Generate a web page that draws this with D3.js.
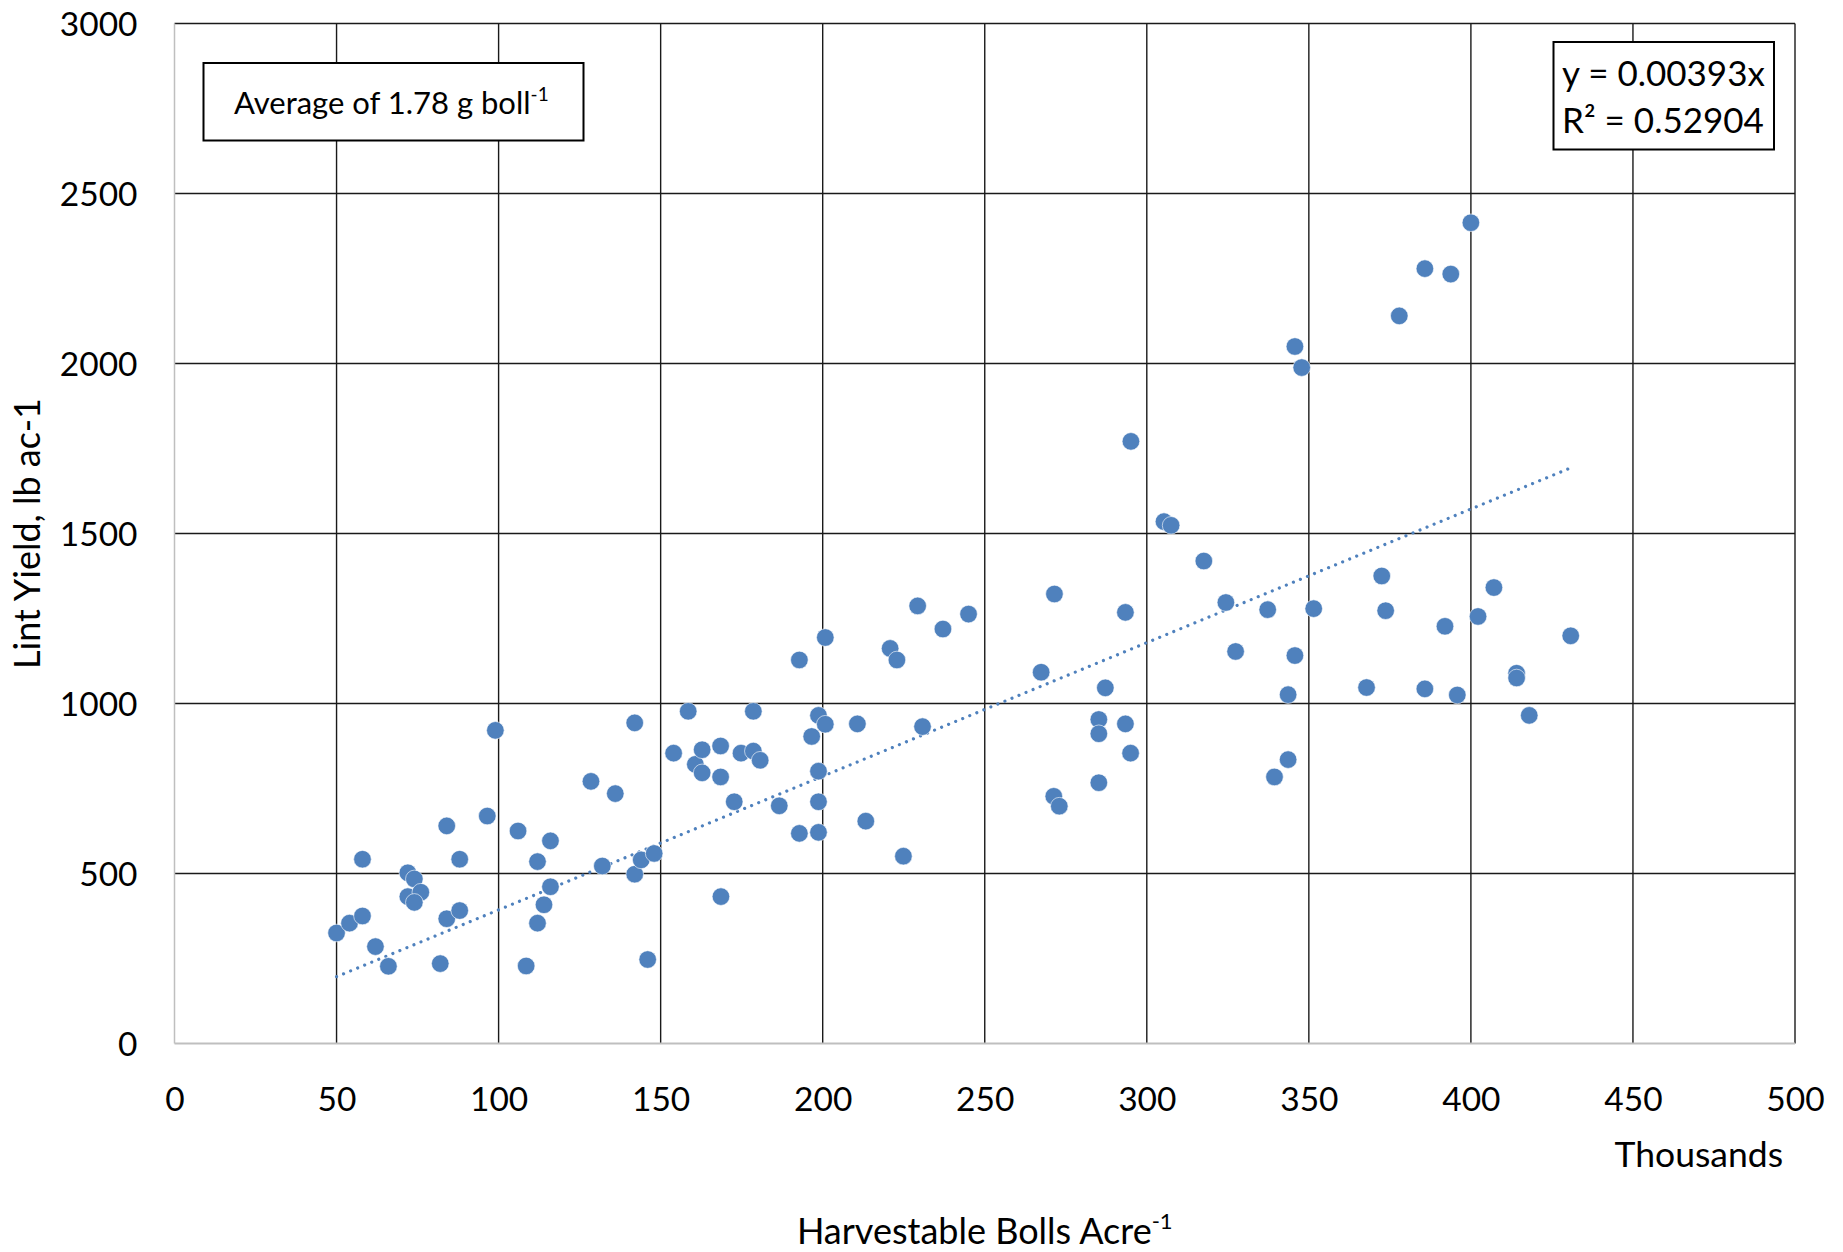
<!DOCTYPE html>
<html>
<head>
<meta charset="utf-8">
<script src="https://cdn.jsdelivr.net/npm/d3@7"></script>
<style>
  html, body { margin: 0; padding: 0; background: #fff; }
  svg { display: block; }
  text { font-family: Lato, 'Open Sans', sans-serif; fill: #000; }
</style>
</head>
<body>
<div id="chart"></div>
<script>
;(function() {
  'use strict';

  // harvestable bolls per acre, thousands
  var bolls = [
    50, 54, 58, 58, 62, 66, 72, 74, 72, 76, 74, 82, 84, 84, 88, 88,
    96.5, 99, 106, 108.5, 112, 112, 114, 116, 116, 128.5, 132, 136,
    142, 142, 144, 146, 148, 154, 158.5, 160.7, 162.8, 162.8, 168.5,
    168.5, 168.6, 172.7, 174.8, 178.6, 178.6, 180.7, 186.6, 192.8,
    192.8, 196.6, 198.7, 198.7, 198.7, 198.7, 200.8, 200.8, 210.7,
    213.3, 220.8, 222.9, 224.9, 229.3, 230.8, 237.1, 245, 267.4,
    271.5, 271.3, 273, 285.2, 285.2, 285.2, 287.2, 293.4, 293.4,
    295.1, 295, 305.3, 307.5, 317.6, 324.4, 327.4, 337.3, 339.4,
    343.6, 343.6, 345.7, 345.7, 347.8, 351.5, 367.8, 372.5, 373.7,
    377.9, 385.8, 385.8, 392, 393.8, 395.8, 400, 402.2, 407.1,
    414.1, 414.1, 418, 430.8
  ];

  // lint yield, lb per acre
  var lintYield = [
    325, 354, 375, 542, 285, 227, 502, 484, 432, 445, 415, 235, 640, 367, 542, 391,
    669, 921, 625, 228, 535, 354, 408, 596, 461, 771, 522, 735,
    498, 943, 540, 247, 559, 854, 977, 821, 864, 796, 875,
    784, 432, 711, 854, 977, 860, 833, 699, 618,
    1128, 903, 965, 801, 711, 621, 939, 1194, 940,
    654, 1162, 1128, 551, 1287, 932, 1219, 1263, 1092,
    1322, 727, 698, 953, 911, 767, 1046, 1268, 940,
    1771, 854, 1535, 1524, 1419, 1297, 1153, 1276, 784,
    1026, 835, 2050, 1141, 1988, 1279, 1047, 1375, 1273,
    2140, 2279, 1043, 1227, 2263, 1025, 2414, 1256, 1341,
    1089, 1075, 965, 1199
  ];

  var xTicks = [0, 50, 100, 150, 200, 250, 300, 350, 400, 450, 500];
  var yTicks = [0, 500, 1000, 1500, 2000, 2500, 3000];

  // trendline y = 0.00393x (x in bolls), i.e. 3.93 per thousand
  var trendSlope = 3.93;
  var rSquared = '0.52904';

  var width = 1843,
      height = 1252,
      left = 174.5,
      right = 1795,
      top = 23.5,
      bottom = 1043.5;

  var blue = '#4f81bd';

  var svg = d3.select('#chart')
    .append('svg')
    .attr('width', width)
    .attr('height', height);

  svg.append('rect')
    .attr('width', width)
    .attr('height', height)
    .attr('fill', '#fff');

  var x = d3.scaleLinear().domain([0, 500]).range([left, right]);
  var y = d3.scaleLinear().domain([0, 3000]).range([bottom, top]);

  /* ------- GRID ------- */
  var grid = svg.append('g').attr('class', 'grid');

  grid.selectAll('line.vgrid')
    .data(xTicks.filter(function(d) { return d > 0; }))
    .enter().append('line')
    .attr('class', 'vgrid')
    .attr('x1', function(d) { return x(d); })
    .attr('x2', function(d) { return x(d); })
    .attr('y1', top)
    .attr('y2', bottom)
    .attr('stroke', '#1a1a1a')
    .attr('stroke-width', 1.4);

  grid.selectAll('line.hgrid')
    .data(yTicks.filter(function(d) { return d > 0; }))
    .enter().append('line')
    .attr('class', 'hgrid')
    .attr('x1', left)
    .attr('x2', right)
    .attr('y1', function(d) { return y(d); })
    .attr('y2', function(d) { return y(d); })
    .attr('stroke', '#1a1a1a')
    .attr('stroke-width', 1.4);

  // axis lines are light grey, as in the excel original
  svg.append('line')
    .attr('x1', left).attr('x2', left)
    .attr('y1', top).attr('y2', bottom)
    .attr('stroke', '#bfbfbf').attr('stroke-width', 1.5);
  svg.append('line')
    .attr('x1', left).attr('x2', right)
    .attr('y1', bottom).attr('y2', bottom)
    .attr('stroke', '#bfbfbf').attr('stroke-width', 2);

  /* ------- AXES ------- */
  var xAxis = d3.axisBottom(x)
    .tickValues(xTicks)
    .tickSize(0)
    .tickPadding(44)
    .tickFormat(d3.format('d'));

  var yAxis = d3.axisLeft(y)
    .tickValues(yTicks)
    .tickSize(0)
    .tickPadding(37)
    .tickFormat(d3.format('d'));

  var gx = svg.append('g')
    .attr('transform', 'translate(0,' + bottom + ')')
    .call(xAxis);
  var gy = svg.append('g')
    .attr('transform', 'translate(' + left + ',0)')
    .call(yAxis);

  [gx, gy].forEach(function(g) {
    g.select('.domain').remove();
    g.selectAll('text')
      .attr('font-family', 'Lato, sans-serif')
      .attr('font-size', 33.5)
      .attr('fill', '#000');
  });
  gy.selectAll('text').attr('dy', '0.36em');

  /* ------- TRENDLINE ------- */
  var xExt = d3.extent(bolls);
  svg.append('line')
    .attr('x1', x(xExt[0]))
    .attr('y1', y(xExt[0] * trendSlope))
    .attr('x2', x(xExt[1]))
    .attr('y2', y(xExt[1] * trendSlope))
    .attr('stroke', blue)
    .attr('stroke-width', 3.2)
    .attr('stroke-linecap', 'round')
    .attr('stroke-dasharray', '0.01,7.6');

  /* ------- POINTS ------- */
  svg.append('g')
    .attr('class', 'points')
    .selectAll('circle')
    .data(d3.range(bolls.length))
    .enter().append('circle')
    .attr('cx', function(i) { return x(bolls[i]); })
    .attr('cy', function(i) { return y(lintYield[i]); })
    .attr('r', 8.8)
    .attr('fill', blue)
    .attr('stroke', '#fff')
    .attr('stroke-width', 0.6);

  /* ------- LABELS ------- */
  svg.append('text')
    .attr('x', 1783)
    .attr('y', 1167)
    .attr('text-anchor', 'end')
    .attr('font-size', 35.5)
    .text('Thousands');

  var xTitle = svg.append('text')
    .attr('x', (left + right) / 2)
    .attr('y', 1244)
    .attr('text-anchor', 'middle')
    .attr('font-size', 36);
  xTitle.append('tspan').text('Harvestable Bolls Acre');
  xTitle.append('tspan')
    .attr('font-size', 22)
    .attr('dy', -15)
    .text('-1');

  svg.append('text')
    .attr('transform', 'translate(40,' + ((top + bottom) / 2) + ') rotate(-90)')
    .attr('text-anchor', 'middle')
    .attr('font-size', 36)
    .text('Lint Yield, lb ac-1');

  /* ------- ANNOTATION BOXES ------- */
  svg.append('rect')
    .attr('x', 203.5).attr('y', 63)
    .attr('width', 380).attr('height', 77.5)
    .attr('fill', '#fff')
    .attr('stroke', '#000')
    .attr('stroke-width', 2);

  var avg = svg.append('text')
    .attr('x', 234)
    .attr('y', 114)
    .attr('font-size', 31);
  avg.append('tspan').text('Average of 1.78 g boll');
  avg.append('tspan')
    .attr('font-size', 19)
    .attr('dy', -13)
    .text('-1');

  svg.append('rect')
    .attr('x', 1553.5).attr('y', 42)
    .attr('width', 220.5).attr('height', 107.5)
    .attr('fill', '#fff')
    .attr('stroke', '#000')
    .attr('stroke-width', 2);

  svg.append('text')
    .attr('x', 1562)
    .attr('y', 86)
    .attr('font-size', 35)
    .text('y = ' + (trendSlope / 1000).toFixed(5) + 'x');

  svg.append('text')
    .attr('x', 1562)
    .attr('y', 133)
    .attr('font-size', 35)
    .text('R\u00b2 = ' + rSquared);
})();
</script>
</body>
</html>
